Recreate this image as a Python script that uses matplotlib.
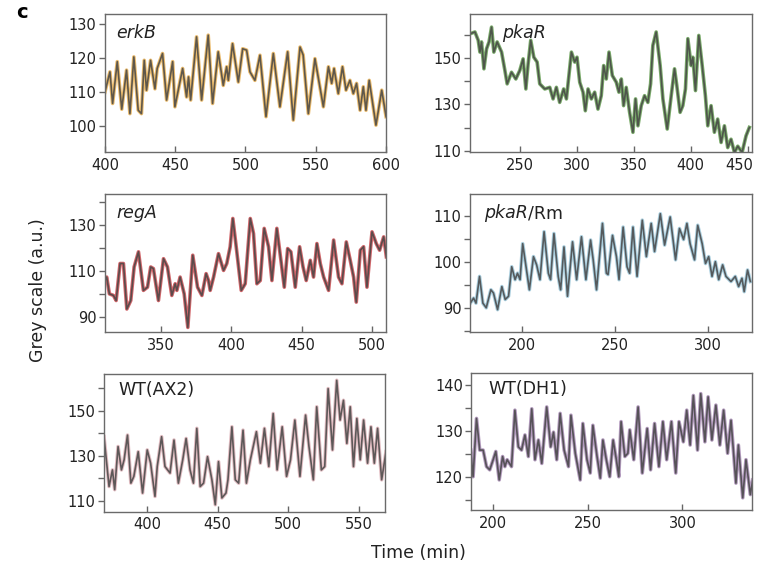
import matplotlib
matplotlib.use("Agg")
import matplotlib.pyplot as plt
from matplotlib.ticker import FixedLocator, FuncFormatter
from matplotlib.transforms import ScaledTranslation

plt.rcParams['font.family'] = ['DejaVu Sans']

# peaks and troughs, (time in min, grey value)
erkb_t = [400, 403.6, 405.5, 408.8, 412, 415.4, 417.8, 420.6, 423.7, 426, 428, 429.6, 432.5,
          435.6, 437.2, 441, 443.9, 448.2, 449.8, 455.3, 458.1, 459.5, 461, 465.2, 468.8, 473.5,
          476.6, 480.6, 484.2, 486.6, 487.8, 490.8, 494.9, 498, 500.8, 503.2, 506.7, 510.3,
          514.6, 519.8, 524.5, 530, 534, 538.8, 541, 544.7, 549.4, 555.4, 559, 561.3, 563,
          566, 569, 571.5, 574.3, 576.7, 579, 581.5, 583.8, 585.7, 588, 592.8, 596.9, 600]
erkb_v = [110, 116, 106.7, 119, 105, 116.5, 103.7, 120.4, 104.7, 103.7, 119.4, 110.6, 119.4,
          111, 117, 121.4, 107.7, 119, 105.7, 117, 108.6, 114.5, 107.7, 126.3, 107.7, 126.8,
          106.7, 121.9, 112, 117.5, 113.5, 124.3, 113, 122.8, 122.4, 116, 113.5, 120.9,
          102.8, 121.4, 105.7, 121.9, 101.8, 123.3, 121, 103.7, 119.9, 105.7, 117.5, 112.6, 117,
          109.6, 117.5, 110.6, 113.5, 109.6, 112.6, 104.7, 111.6, 104.7, 113.5, 100.3, 110.6, 102.8]

pkar_t = [206.2, 210.6, 213.5, 215, 216.4, 218.5, 220.8, 223, 225.2, 227.2, 230.1, 234, 236.9,
          238.9, 242.7, 246.5, 250, 252.9, 255.3, 257.3, 259.6, 262.3, 265.2, 267.5, 271.9,
          276.3, 279.2, 282.1, 285, 288.5, 290.9, 295.3, 298.2, 300.2, 302.6, 305.5, 307.5,
          309.9, 312.8, 315.7, 318.6, 321.5, 323.6, 325.9, 328.3, 331.2, 334.7, 337, 339.1,
          341.1, 343.4, 346.4, 349.3, 351.6, 353.7, 356.6, 359.5, 362.4, 364.8, 366.8, 369.7,
          373.2, 375.6, 379.4, 382.9, 385.8, 387.8, 390.7, 393.1, 395.4, 397.5, 400.4, 401.9,
          404.2, 407.1, 410.1, 412.9, 415, 417.9, 420.8, 423.7, 426.7, 429.6, 432.5, 435.4,
          438.4, 441.3, 445.1, 448.6, 451.5]
pkar_v = [160.5, 161.3, 157.7, 152.6, 157, 145.4, 154, 157, 163.4, 152.6, 157, 152.6, 144.7,
          138.9, 143.9, 141, 144.7, 149.7, 136.7, 147.5, 157.7, 150.4, 148.3, 138.9, 136.7,
          137.4, 132.4, 137.4, 130.9, 136.7, 132.4, 152.6, 148.3, 150.4, 139.6, 135.3, 127.3,
          136.7, 132.4, 135.3, 128, 133.8, 146.8, 141, 152.6, 142.5, 139.6, 135.3, 141,
          129.5, 137.4, 126.6, 118, 132.4, 120.8, 129.5, 133.8, 130.9, 138.9, 155.5, 161.3,
          146.8, 132.4, 119.4, 133.8, 145.4, 138.2, 126.6, 129.5, 136.7, 158.4, 146.8, 150.4,
          136, 159.8, 146.8, 133.8, 120.8, 129.5, 118, 123.7, 113.6, 120.8, 111.4, 115,
          109.3, 112, 109.3, 116.5, 120.1]

rega_t = [310.1, 311.3, 313.2, 316.1, 318, 320.8, 323.2, 325.6, 328.4, 330.8, 333.9, 337.4,
          340.3, 342.6, 344.5, 348.1, 351.7, 354.5, 357.6, 360, 361.2, 363.5, 366.4, 369,
          372.5, 375.9, 379, 382, 383.7, 384.9, 387.3, 390.8, 394.4, 396.7, 399.1, 401, 403.4,
          407, 409.8, 413.4, 415.7, 418.1, 420.5, 423.3, 426.4, 428.8, 432.3, 435.2, 437.6,
          440, 442.3, 445.4, 448.5, 450.9, 453.2, 456.1, 458.4, 460.8, 463.2, 465.6, 469.1,
          472.7, 476.2, 478.6, 481.7, 484.5, 486.9, 488.8, 491.7, 494, 496.4, 500, 503, 505.4,
          508.3, 510.2]
rega_v = [106, 107.5, 100.2, 99.5, 97.3, 113.4, 113.4, 93.6, 97.3, 111.9, 118.5, 101.7,
          103.1, 111.9, 111.2, 97.3, 115.5, 111.9, 99.5, 104.6, 101.7, 107.5, 100.2, 85.6,
          117, 103.1, 99.5, 109, 106, 101.7, 107.5, 117.7, 110.4, 113.4, 120.7, 133, 120.7,
          101.7, 104.6, 133, 126.5, 104.6, 106, 128.7, 120.7, 106, 128.7, 114.8, 103.1,
          119.9, 118.5, 103.1, 120.7, 112, 106, 114.8, 107.5, 122.1, 113.4, 107.5, 101.7,
          123.6, 107.5, 104.6, 122.8, 114.8, 107.5, 96.6, 119.2, 120.7, 103.1, 127.2, 122.1, 119.2,
          125, 116.3]

rm_t = [172.3, 174.1, 175.4, 177.3, 179.1, 180.9, 183.4, 184.8, 187, 189.3, 191.1, 192.9,
        194.6, 196.4, 197.7, 199.1, 200.5, 202.3, 204.1, 206.3, 208, 209.8, 212, 214.3, 215.5,
        217.3, 219.6, 220.9, 222.7, 224.6, 227.3, 229.5, 232.1, 234.5, 237, 238.4, 240.2,
        243.4, 245.5, 246.4, 248.8, 250.9, 252.3, 254.5, 256.6, 258, 259.8, 262, 264.8, 267,
        269.6, 271.4, 274.5, 276.8, 279.8, 282.7, 284.8, 287, 288.8, 290.5, 292.9, 294.6, 297,
        298.8, 300.5, 302.3, 304.1, 305.9, 308, 309.8, 312.5, 314.8, 316.6, 318.4, 319.6,
        321.4, 322.9]
rm_v = [91.1, 92.2, 91.1, 96.9, 91.1, 90.1, 94, 93.3, 89.7, 94.7, 91.9, 92.6,
        99, 96.2, 97.6, 96.2, 104, 99, 94, 101.2, 99.4, 96.2, 106.6, 97.6, 96.2,
        106.2, 96.9, 94, 103.3, 92.6, 104.4, 96.2, 105.5, 96.2, 104.8, 100.5, 94,
        108.4, 97.6, 97.3, 105.8, 101.2, 96.2, 107.6, 99, 97.6, 107.6, 96.9, 109.1, 101.2,
        108.4, 102.3, 110.5, 103.7, 109.8, 100.5, 107.3, 104.9, 108.4, 104, 100.5, 108, 104,
        99.7, 101.2, 96.9, 100.1, 96.2, 99.4, 96.9, 95.8, 96.9, 94.7, 96.5, 93.6,
        98.3, 95.8]

ax2_t = [369.3, 370.5, 372.9, 375.3, 376.9, 379.3, 381.7, 383.6, 386, 388.4, 390.5, 393.6,
         396.7, 400, 402.4, 405.5, 407.1, 410.2, 412.6, 416.2, 419, 422.1, 425.2, 427.6, 430.4,
         432.8, 435.2, 437.6, 440, 442.8, 445.9, 448.3, 450.6, 453, 455.9, 457.3, 460.1, 462.5,
         464.9, 468, 470.4, 473.2, 477.5, 480.3, 483.2, 486.3, 489.4, 492.2, 495.8, 498.9,
         501.7, 504.8, 508.4, 512.4, 514.8, 517.9, 520.3, 523.6, 526, 528.4, 531.5, 534.5,
         536.9, 539.3, 541.7, 544.1, 546.4, 548.8, 551.2, 553.6, 556.4, 558.8, 561.2, 563.5,
         566.4, 569.5]
ax2_v = [138.5, 131.1, 116.3, 123.7, 114.9, 134.1, 123.7, 128.2, 139.2, 117.8, 120.8, 131.8,
         113.4, 132.6, 126.7, 111.9, 125.2, 138.5, 125.2, 122.3, 137, 117.8, 128.2, 137.7, 123.7,
         117.8, 142.2, 116.3, 117.8, 129.6, 119.3, 108.2, 127.4, 111.2, 113.4, 119.3, 142.9, 119.3,
         117.8, 141.4, 117.8, 128.2, 140.7, 126.7, 142.2, 125.2, 148.8, 123.7, 142.9, 120.8,
         128.2, 145.9, 120.8, 148.1, 134.1, 119.3, 151.8, 123.7, 125.2, 159.9, 132.6, 163.6,
         145.9, 154.7, 135.5, 151.8, 125.2, 146.6, 128.2, 145.9, 126.7, 142.9, 126.7, 142.2,
         119.3, 131.8]

dh1_t = [188.1, 189.4, 191.2, 192.9, 194.7, 196.5, 198.2, 200, 201.4, 203.2, 205, 206.2, 207.4,
         209.7, 211.5, 213.3, 215, 216.8, 218.6, 220.4, 222.1, 223.9, 225.7, 228.3, 230.4,
         231.9, 233.6, 235.4, 237.5, 239.8, 241.1, 243.4, 246, 247.4, 249.6, 251.3, 252.7,
         254.9, 256.6, 258, 259.8, 261.6, 263.4, 265.1, 266.4, 267.6, 269.6, 271.2, 272.2,
         274.3, 276.6, 278.8, 281.4, 283.2, 285.3, 287.6, 289.7, 291.7, 294.2, 296.5, 298.2,
         300.5, 302.3, 304.1, 305.8, 308, 309.7, 311.9, 313.6, 315.6, 317.7, 319.8, 321.8,
         323.9, 325.7, 328.3, 329.6, 331.9, 333.6, 335.9, 337.2]
dh1_v = [125.9, 120.1, 132.8, 125.9, 125.9, 122.3, 121.6, 123.8, 125.6, 119.4, 124.5, 122.3, 123.8,
         122.3, 134.6, 126.6, 125.9, 129.2, 124.5, 134.9, 123.8, 128.1, 123, 135.3, 126.6,
         129.8, 123.8, 133.9, 125.9, 122.3, 133.5, 125.2, 119.4, 131.7, 123.8, 120.9, 131.3,
         124.5, 119.8, 128.1, 123.8, 120.1, 128.1, 123.8, 120.1, 132.1, 124.5, 125.2, 130.3,
         123.8, 135.3, 120.9, 130.6, 121.6, 131.7, 122.3, 132.1, 123.8, 132.1, 120.9, 132.1,
         127.7, 134.6, 127, 137.8, 125.9, 138.2, 127.7, 137.5, 128.1, 135.7, 127, 134.6,
         125.2, 132.4, 118.7, 127, 115.5, 123.8, 116.2, 119.4]

panels = [
    # t, v, colour, axes rect, xlim, ylim, xticks, yticks, labelled yticks, italic part, rest, label x
    (erkb_t, erkb_v, '#e3a43c', [0.138, 0.731, 0.370, 0.244], (400, 600), (92.4, 133),
     [400, 450, 500, 550, 600], [100, 110, 120, 130], [100, 110, 120, 130], 'erkB', '', 0.04),
    (pkar_t, pkar_v, '#4f8f3a', [0.618, 0.731, 0.371, 0.244], (206, 453.5), (109.5, 169),
     [250, 300, 350, 400, 450], [110, 120, 130, 140, 150, 160], [110, 130, 150], 'pkaR', '', 0.115),
    (rega_t, rega_v, '#c2343a', [0.138, 0.412, 0.370, 0.244], (310, 510), (83.5, 143.5),
     [350, 400, 450, 500], [90, 100, 110, 120, 130, 140], [90, 110, 130], 'regA', '', 0.04),
    (rm_t, rm_v, '#8fbfd4', [0.618, 0.412, 0.371, 0.244], (172, 323.6), (84.8, 114.7),
     [200, 250, 300], [85, 90, 95, 100, 105, 110], [90, 100, 110], 'pkaR', '/Rm', 0.05),
    (ax2_t, ax2_v, '#d8a7ae', [0.137, 0.094, 0.370, 0.244], (369.4, 569), (105, 166.4),
     [400, 450, 500, 550], [110, 120, 130, 140, 150, 160], [110, 130, 150], '', 'WT(AX2)', 0.05),
    (dh1_t, dh1_v, '#9a7aa8', [0.620, 0.097, 0.370, 0.242], (188.4, 337), (112.8, 142.6),
     [200, 250, 300], [115, 120, 125, 130, 135, 140], [120, 130, 140], '', 'WT(DH1)', 0.06),
]

fig = plt.figure(figsize=(7.6, 5.65), dpi=100)

for t, v, col, rect, xl, yl, xt, yt, ylab, ital, rest, lx in panels:
    ax = fig.add_axes(rect)
    ax.plot(t, v, color=col, lw=2.6, alpha=0.75, solid_joinstyle='round')
    ax.plot(t, v, color='#464646', lw=1.2, alpha=0.85, solid_joinstyle='round')
    ax.set_xlim(*xl)
    ax.set_ylim(*yl)
    ax.xaxis.set_major_locator(FixedLocator(xt))
    ax.yaxis.set_major_locator(FixedLocator(yt))
    ax.yaxis.set_major_formatter(FuncFormatter(
        lambda y, p, lab=ylab: ('%g' % y) if y in lab else ''))
    ax.tick_params(axis='x', direction='in', length=4, width=1, color='#666666',
                   labelsize=10.5, pad=4, labelcolor='#222222')
    ax.tick_params(axis='y', direction='out', length=4, width=1, color='#666666',
                   labelsize=10.5, pad=2, labelcolor='#222222')
    for s in ax.spines.values():
        s.set_color('#6a6a6a')
        s.set_linewidth(1.0)
    if ital:
        txt = ax.text(lx, 0.93, ital, transform=ax.transAxes, fontsize=12.5,
                      style='italic', va='top', ha='left', color='#222222')
        if rest:
            fig.canvas.draw()
            bb = txt.get_window_extent().transformed(ax.transAxes.inverted())
            ax.text(bb.x1 + 0.003, 0.93, rest, transform=ax.transAxes, fontsize=12.5,
                    va='top', ha='left', color='#222222')
    else:
        ax.text(lx, 0.95, rest, transform=ax.transAxes, fontsize=12.5,
                va='top', ha='left', color='#222222')
    # keep the last tick label of the right column inside the figure
    if rect[0] > 0.5 and xt[-1] > xl[1] - 5:
        fig.canvas.draw()
        last = ax.get_xticklabels()[-1]
        last.set_transform(last.get_transform() + ScaledTranslation(-6 / 72, 0, fig.dpi_scale_trans))

fig.text(0.029, 0.978, 'c', fontsize=14, fontweight='heavy', va='center', ha='center')
fig.text(0.05, 0.487, 'Grey scale (a.u.)', fontsize=12.5, rotation=90,
         va='center', ha='center', color='#222222')
fig.text(0.55, 0.021, 'Time (min)', fontsize=12.5, va='center', ha='center', color='#222222')

fig.savefig('out.png', dpi=100)
